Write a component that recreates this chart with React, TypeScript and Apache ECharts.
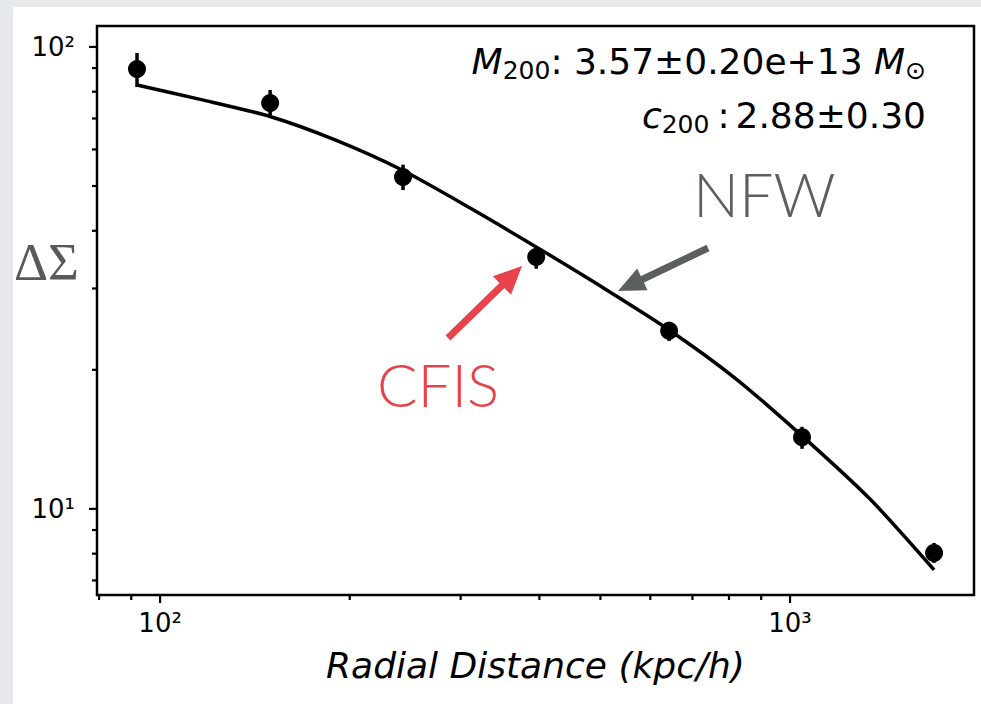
import React, { useEffect, useRef } from 'react';
import * as echarts from 'echarts';

// Measured excess surface density ΔΣ against radial distance (kpc/h)
const radius = [91.9, 149.5, 243.0, 395.4, 642.7, 1044.8, 1692.9];
const deltaSigma = [89.6, 75.6, 52.3, 35.1, 24.3, 14.3, 8.03];
const errLow = [81.9, 70.6, 49.0, 33.1, 23.1, 13.49, 7.64];
const errHigh = [97.0, 80.7, 55.6, 36.9, 25.4, 15.05, 8.44];

// Best-fit NFW profile
const nfwRadius = [91.9, 115.8, 149.5, 189.6, 243.0, 310.5, 395.4, 499.3, 642.7, 817.7, 1044.8, 1339.7, 1692.9];
const nfwProfile = [82.7, 77.0, 70.7, 62.9, 54.0, 44.8, 36.9, 30.4, 24.4, 19.2, 14.39, 10.5, 7.38];

// Axis extents and tick positions (log axes)
const xRange = [79.4, 1959];
const yRange = [6.51, 111];
const xMajorTicks = [100, 1000];
const xMinorTicks = [80, 90, 200, 300, 400, 500, 600, 700, 800, 900];
const yMajorTicks = [10, 100];
const yMinorTicks = [7, 8, 9, 20, 30, 40, 50, 60, 70, 80, 90];

const FONT = 'DejaVu Sans';
const SUPERSCRIPT: Record<string, string> = {
  '-': '⁻', '0': '⁰', '1': '¹', '2': '²', '3': '³', '4': '⁴',
  '5': '⁵', '6': '⁶', '7': '⁷', '8': '⁸', '9': '⁹',
};

// Only decades get a label, written as 10 with a superscript exponent
const logLabel = (v: number) => {
  const e = Math.log10(v);
  const r = Math.round(e);
  if (Math.abs(e - r) > 1e-6) return '';
  return '10' + String(r).split('').map((c) => SUPERSCRIPT[c] || c).join('');
};

// Arrow annotation: a thick shaft ending in a filled triangular head
function arrow(tail: number[], tip: number[], color: string, shaftW: number, headLen: number, headW: number) {
  const dx = tip[0] - tail[0];
  const dy = tip[1] - tail[1];
  const len = Math.hypot(dx, dy);
  const ux = dx / len;
  const uy = dy / len;
  const nx = -uy;
  const ny = ux;
  const bx = tip[0] - ux * headLen;
  const by = tip[1] - uy * headLen;
  return [
    {
      type: 'line',
      silent: true,
      shape: { x1: tail[0], y1: tail[1], x2: bx + ux * 2, y2: by + uy * 2 },
      style: { stroke: color, lineWidth: shaftW },
      z: 20,
    },
    {
      type: 'polygon',
      silent: true,
      shape: {
        points: [
          [tip[0], tip[1]],
          [bx + nx * headW / 2, by + ny * headW / 2],
          [bx - nx * headW / 2, by - ny * headW / 2],
        ],
      },
      style: { fill: color },
      z: 20,
    },
  ];
}

export default function App() {
  const ref = useRef<HTMLDivElement>(null);

  useEffect(() => {
    if (!ref.current) return;
    const chart = echarts.init(ref.current, undefined, { renderer: 'svg' });

    const xTickData = [
      ...xMajorTicks.map((v) => [v, 10, 1]),
      ...xMinorTicks.map((v) => [v, 10, 0]),
    ];
    const yTickData = [
      ...yMajorTicks.map((v) => [100, v, 1]),
      ...yMinorTicks.map((v) => [100, v, 0]),
    ];

    const axisLabel = {
      formatter: logLabel,
      fontFamily: FONT,
      fontSize: 26,
      color: '#000',
    };

    const annotationRich = {
      it: { fontFamily: FONT, fontStyle: 'italic', fontSize: 36, lineHeight: 44, fill: '#000' },
      n: { fontFamily: FONT, fontSize: 36, lineHeight: 44, fill: '#000' },
      colon: { fontFamily: FONT, fontSize: 36, lineHeight: 44, fill: '#000', padding: [0, 6, 0, 8] },
      sub: { fontFamily: FONT, fontSize: 25, lineHeight: 26, verticalAlign: 'bottom', fill: '#000' },
    };

    const option: any = {
      animation: false,
      backgroundColor: '#e6e9ec',
      grid: {
        left: 97,
        top: 26,
        right: 7,
        bottom: 109,
        show: true,
        borderColor: '#000',
        borderWidth: 2.5,
        backgroundColor: '#fff',
      },
      xAxis: {
        type: 'log',
        logBase: 10,
        min: xRange[0],
        max: xRange[1],
        axisLine: { show: false },
        axisTick: { show: false },
        splitLine: { show: false },
        axisLabel: { ...axisLabel, margin: 15 },
        name: 'Radial Distance (kpc/h)',
        nameLocation: 'middle',
        nameGap: 52,
        nameTextStyle: { fontFamily: FONT, fontStyle: 'italic', fontSize: 36, color: '#000' },
      },
      yAxis: {
        type: 'log',
        logBase: 10,
        min: yRange[0],
        max: yRange[1],
        axisLine: { show: false },
        axisTick: { show: false },
        splitLine: { show: false },
        axisLabel: { ...axisLabel, margin: 22 },
      },
      series: [
        {
          name: 'NFW',
          type: 'line',
          data: nfwRadius.map((r, i) => [r, nfwProfile[i]]),
          smooth: 0.25,
          showSymbol: false,
          lineStyle: { color: '#000', width: 3.5 },
          z: 3,
        },
        {
          name: 'errors',
          type: 'custom',
          data: radius.map((r, i) => [r, errLow[i], errHigh[i]]),
          encode: { x: 0, y: [1, 2] },
          renderItem: (params: any, api: any) => {
            const p1 = api.coord([api.value(0), api.value(1)]);
            const p2 = api.coord([api.value(0), api.value(2)]);
            return {
              type: 'line',
              shape: { x1: p1[0], y1: p1[1], x2: p2[0], y2: p2[1] },
              style: { stroke: '#000', lineWidth: 3.5 },
            };
          },
          z: 4,
        },
        {
          name: 'CFIS',
          type: 'scatter',
          data: radius.map((r, i) => [r, deltaSigma[i]]),
          symbol: 'circle',
          symbolSize: 18,
          itemStyle: { color: '#000', opacity: 1 },
          z: 5,
        },
        {
          name: 'xticks',
          type: 'custom',
          data: xTickData,
          encode: { x: 0, y: 1 },
          clip: false,
          renderItem: (params: any, api: any) => {
            const cs = params.coordSys;
            const px = api.coord([api.value(0), api.value(1)])[0];
            const y0 = cs.y + cs.height;
            const len = api.value(2) ? 8 : 5;
            return {
              type: 'line',
              shape: { x1: px, y1: y0, x2: px, y2: y0 + len },
              style: { stroke: '#000', lineWidth: 2.2 },
            };
          },
        },
        {
          name: 'yticks',
          type: 'custom',
          data: yTickData,
          encode: { x: 0, y: 1 },
          clip: false,
          renderItem: (params: any, api: any) => {
            const cs = params.coordSys;
            const py = api.coord([api.value(0), api.value(1)])[1];
            const x0 = cs.x;
            const len = api.value(2) ? 8 : 5;
            return {
              type: 'line',
              shape: { x1: x0, y1: py, x2: x0 - len, y2: py },
              style: { stroke: '#000', lineWidth: 2.2 },
            };
          },
        },
      ],
      graphic: [
        {
          type: 'rect',
          silent: true,
          z: -10,
          shape: { x: 13, y: 7, width: 968, height: 697 },
          style: { fill: '#fff' },
        },
        {
          type: 'text',
          silent: true,
          z: 20,
          x: 926,
          y: 61,
          style: {
            text: '{it|M}{sub|200}{n|: 3.57±0.20e+13 }{it|M}{sub|⊙}',
            align: 'right',
            verticalAlign: 'middle',
            rich: annotationRich,
          },
        },
        {
          type: 'text',
          silent: true,
          z: 20,
          x: 926,
          y: 115,
          style: {
            text: '{it|c}{sub|200}{colon|:}{n|2.88±0.30}',
            align: 'right',
            verticalAlign: 'middle',
            rich: annotationRich,
          },
        },
        {
          type: 'text',
          silent: true,
          z: 20,
          x: 14,
          y: 262,
          style: {
            text: 'ΔΣ',
            align: 'left',
            verticalAlign: 'middle',
            fontFamily: 'Liberation Serif',
            fontSize: 53,
            fill: '#595959',
          },
        },
        {
          type: 'text',
          silent: true,
          z: 20,
          x: 693,
          y: 193,
          style: {
            text: 'NFW',
            align: 'left',
            verticalAlign: 'middle',
            fontFamily: 'Lato',
            fontWeight: 300,
            fontSize: 61,
            fill: '#5b605f',
          },
        },
        {
          type: 'text',
          silent: true,
          z: 20,
          x: 377,
          y: 384,
          style: {
            text: 'CFIS',
            align: 'left',
            verticalAlign: 'middle',
            fontFamily: 'Lato',
            fontWeight: 300,
            fontSize: 60,
            fill: '#e8424a',
          },
        },
        ...arrow([708, 248], [618, 291], '#5b605f', 7, 27, 24),
        ...arrow([448, 338], [522, 266], '#e8424a', 7, 28, 26),
      ],
    };

    chart.setOption(option);
    return () => chart.dispose();
  }, []);

  return (
    <div
      ref={ref}
      style={{ position: 'absolute', left: 0, top: 0, width: 981, height: 704 }}
    />
  );
}
